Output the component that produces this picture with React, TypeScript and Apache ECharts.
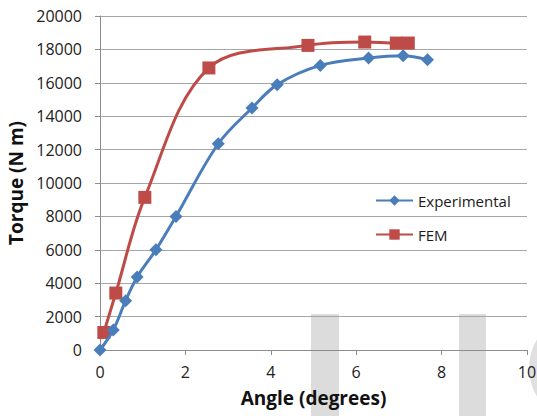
import React, { useEffect, useRef } from "react";
import * as echarts from "echarts";

const expAngle = [0, 0.31, 0.6, 0.87, 1.31, 1.78, 2.77, 3.56, 4.15, 5.16, 6.29, 7.1, 7.67];
const expTorque = [0, 1200, 2950, 4370, 6000, 8000, 12350, 14490, 15890, 17040, 17480, 17620, 17380];
const femAngle = [0.09, 0.37, 1.05, 2.55, 4.87, 6.2, 6.94, 7.22];
const femTorque = [1050, 3410, 9140, 16890, 18240, 18440, 18380, 18380];
const seriesNames = ["Experimental", "FEM"];
const xTitle = "Angle (degrees)";
const yTitle = "Torque (N m)";

const FONT = "'Open Sans', sans-serif";

export default function App() {
  const ref = useRef<HTMLDivElement>(null);
  useEffect(() => {
    if (!ref.current) return;
    const chart = echarts.init(ref.current, null, { renderer: "svg" });
    const zip = (xs: number[], ys: number[]) => xs.map((x, i) => [x, ys[i]]);
    chart.setOption({
      animation: false,
      backgroundColor: "#ffffff",
      grid: { left: 100, right: 10, top: 16, bottom: 66, outerBoundsMode: "none", containLabel: false },
      graphic: [
        { type: "rect", z: -1, shape: { x: 311, y: 314, width: 28, height: 102 }, style: { fill: "#dcdcdc" } },
        { type: "rect", z: -1, shape: { x: 459, y: 314, width: 27, height: 102 }, style: { fill: "#dcdcdc" } },
        { type: "circle", z: -1, shape: { cx: 584, cy: 368, r: 55 }, style: { fill: "#e0e0e0" } },
      ],
      legend: {
        orient: "vertical",
        left: 370,
        top: 188,
        itemWidth: 37,
        itemHeight: 13,
        itemGap: 19,
        textStyle: { fontFamily: FONT, fontSize: 15, color: "#1a1a1a" },
        data: seriesNames,
      },
      xAxis: {
        type: "value",
        min: 0,
        max: 10,
        interval: 2,
        name: xTitle,
        nameLocation: "middle",
        nameGap: 38,
        nameTextStyle: { fontFamily: FONT, fontSize: 19, fontWeight: "bold", color: "#111" },
        axisLine: { show: true, lineStyle: { color: "#8c8c8c", width: 1 } },
        axisTick: { show: true, length: 5, lineStyle: { color: "#8c8c8c" } },
        axisLabel: { fontFamily: FONT, fontSize: 16, color: "#222", margin: 14 },
        splitLine: { show: false },
      },
      yAxis: {
        type: "value",
        min: 0,
        max: 20000,
        interval: 2000,
        name: yTitle,
        nameLocation: "middle",
        nameGap: 71,
        nameTextStyle: { fontFamily: FONT, fontSize: 19, fontWeight: "bold", color: "#111" },
        axisLine: { show: true, lineStyle: { color: "#8c8c8c", width: 1 } },
        axisTick: { show: true, length: 5, lineStyle: { color: "#8c8c8c" } },
        axisLabel: {
          fontFamily: FONT,
          fontSize: 16,
          color: "#222",
          margin: 18,
          formatter: (v: number) => String(v),
        },
        splitLine: { show: true, lineStyle: { color: "#a6a6a6", width: 1 } },
      },
      series: [
        {
          name: seriesNames[0],
          type: "line",
          data: zip(expAngle, expTorque),
          smooth: 0.35,
          symbol: "diamond",
          symbolSize: 13,
          lineStyle: { color: "#4a7ebb", width: 3 },
          itemStyle: { color: "#4a7ebb" },
          z: 3,
        },
        {
          name: seriesNames[1],
          type: "line",
          data: zip(femAngle, femTorque),
          smooth: 0.35,
          symbol: "rect",
          symbolSize: 13,
          lineStyle: { color: "#be4b48", width: 3 },
          itemStyle: { color: "#be4b48" },
          z: 2,
        },
      ],
    });
    return () => chart.dispose();
  }, []);
  return (
    <div
      ref={ref}
      style={{ position: "absolute", left: 0, top: 0, width: 537, height: 416 }}
    />
  );
}
